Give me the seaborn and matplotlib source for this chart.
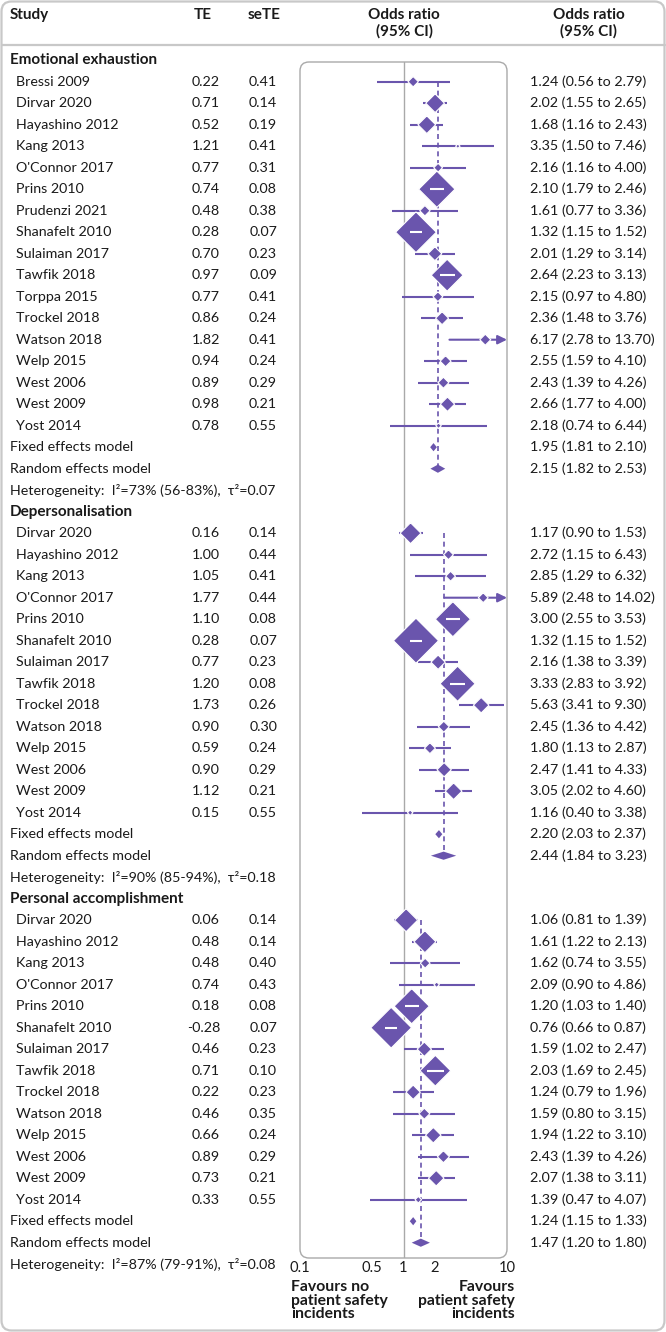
import numpy as np
import pandas as pd
import matplotlib
matplotlib.use("Agg")
import matplotlib.pyplot as plt
import seaborn as sns
from matplotlib.patches import FancyBboxPatch
from matplotlib.ticker import NullLocator

sns.set_theme(style="white")
plt.rcParams['font.family'] = ['Lato', 'DejaVu Sans']

# ---------------- data ----------------
group_names = ["Emotional exhaustion", "Depersonalisation", "Personal accomplishment"]

ee_study = ["Bressi 2009", "Dirvar 2020", "Hayashino 2012", "Kang 2013", "O'Connor 2017",
            "Prins 2010", "Prudenzi 2021", "Shanafelt 2010", "Sulaiman 2017", "Tawfik 2018",
            "Torppa 2015", "Trockel 2018", "Watson 2018", "Welp 2015", "West 2006",
            "West 2009", "Yost 2014"]
ee_te = [0.22, 0.71, 0.52, 1.21, 0.77, 0.74, 0.48, 0.28, 0.70, 0.97, 0.77, 0.86, 1.82, 0.94, 0.89, 0.98, 0.78]
ee_se = [0.41, 0.14, 0.19, 0.41, 0.31, 0.08, 0.38, 0.07, 0.23, 0.09, 0.41, 0.24, 0.41, 0.24, 0.29, 0.21, 0.55]
ee_or = [1.24, 2.02, 1.68, 3.35, 2.16, 2.10, 1.61, 1.32, 2.01, 2.64, 2.15, 2.36, 6.17, 2.55, 2.43, 2.66, 2.18]
ee_lo = [0.56, 1.55, 1.16, 1.50, 1.16, 1.79, 0.77, 1.15, 1.29, 2.23, 0.97, 1.48, 2.78, 1.59, 1.39, 1.77, 0.74]
ee_hi = [2.79, 2.65, 2.43, 7.46, 4.00, 2.46, 3.36, 1.52, 3.14, 3.13, 4.80, 3.76, 13.70, 4.10, 4.26, 4.00, 6.44]
ee_weight = [0.9, 2.9, 2.6, 0.16, 0.64, 10.9, 0.9, 13.7, 1.6, 8.4, 0.8, 1.4, 1.0, 1.0, 1.0, 1.7, 0.25]
ee_fixed = [1.95, 1.81, 2.10]
ee_random = [2.15, 1.82, 2.53]
ee_het = "Heterogeneity:  I²=73% (56-83%),  τ²=0.07"

dp_study = ["Dirvar 2020", "Hayashino 2012", "Kang 2013", "O'Connor 2017", "Prins 2010",
            "Shanafelt 2010", "Sulaiman 2017", "Tawfik 2018", "Trockel 2018", "Watson 2018",
            "Welp 2015", "West 2006", "West 2009", "Yost 2014"]
dp_te = [0.16, 1.00, 1.05, 1.77, 1.10, 0.28, 0.77, 1.20, 1.73, 0.90, 0.59, 0.90, 1.12, 0.15]
dp_se = [0.14, 0.44, 0.41, 0.44, 0.08, 0.07, 0.23, 0.08, 0.26, 0.30, 0.24, 0.29, 0.21, 0.55]
dp_or = [1.17, 2.72, 2.85, 5.89, 3.00, 1.32, 2.16, 3.33, 5.63, 2.45, 1.80, 2.47, 3.05, 1.16]
dp_lo = [0.90, 1.15, 1.29, 2.48, 2.55, 1.15, 1.38, 2.83, 3.41, 1.36, 1.13, 1.41, 2.02, 0.40]
dp_hi = [1.53, 6.43, 6.32, 14.02, 3.53, 1.52, 3.39, 3.92, 9.30, 4.42, 2.87, 4.33, 4.60, 3.38]
dp_weight = [3.6, 0.8, 0.8, 0.8, 10.2, 16.8, 1.7, 10.2, 2.0, 1.0, 1.0, 1.7, 2.3, 0.25]
dp_fixed = [2.20, 2.03, 2.37]
dp_random = [2.44, 1.84, 3.23]
dp_het = "Heterogeneity:  I²=90% (85-94%),  τ²=0.18"

pa_study = ["Dirvar 2020", "Hayashino 2012", "Kang 2013", "O'Connor 2017", "Prins 2010",
            "Shanafelt 2010", "Sulaiman 2017", "Tawfik 2018", "Trockel 2018", "Watson 2018",
            "Welp 2015", "West 2006", "West 2009", "Yost 2014"]
pa_te = [0.06, 0.48, 0.48, 0.74, 0.18, -0.28, 0.46, 0.71, 0.22, 0.46, 0.66, 0.89, 0.73, 0.33]
pa_se = [0.14, 0.14, 0.40, 0.43, 0.08, 0.07, 0.23, 0.10, 0.23, 0.35, 0.24, 0.29, 0.21, 0.55]
pa_or = [1.06, 1.61, 1.62, 2.09, 1.20, 0.76, 1.59, 2.03, 1.24, 1.59, 1.94, 2.43, 2.07, 1.39]
pa_lo = [0.81, 1.22, 0.74, 0.90, 1.03, 0.66, 1.02, 1.69, 0.79, 0.80, 1.22, 1.39, 1.38, 0.47]
pa_hi = [1.39, 2.13, 3.55, 4.86, 1.40, 0.87, 2.47, 2.45, 1.96, 3.15, 3.10, 4.26, 3.11, 4.07]
pa_weight = [4.4, 4.0, 0.8, 0.25, 10.2, 13.7, 1.7, 7.8, 1.7, 1.0, 2.0, 1.2, 2.0, 0.36]
pa_fixed = [1.24, 1.15, 1.33]
pa_random = [1.47, 1.20, 1.80]
pa_het = "Heterogeneity:  I²=87% (79-91%),  τ²=0.08"

x_ticks = [0.1, 0.5, 1, 2, 10]
x_tick_labels = ["0.1", "0.5", "1", "2", "10"]
header_cols = ["Study", "TE", "seTE", "Odds ratio\n(95% CI)", "Odds ratio\n(95% CI)"]
fav_left = ["Favours no", "patient safety", "incidents"]
fav_right = ["Favours", "patient safety", "incidents"]

groups = [
    (group_names[0], ee_study, ee_te, ee_se, ee_or, ee_lo, ee_hi, ee_weight, ee_fixed, ee_random, ee_het),
    (group_names[1], dp_study, dp_te, dp_se, dp_or, dp_lo, dp_hi, dp_weight, dp_fixed, dp_random, dp_het),
    (group_names[2], pa_study, pa_te, pa_se, pa_or, pa_lo, pa_hi, pa_weight, pa_fixed, pa_random, pa_het),
]

# ---------------- style ----------------
PURPLE = "#6a55ad"
GREY = "#a9a9a9"
FRAME = "#c8c8c8"
TXT = "#1a1a1a"
FS = 10.3
FSB = 11.0

W, H = 666, 1332
Y0, DY = 60.2, 21.5
BOX_L, BOX_R, BOX_T, BOX_B = 300, 507, 62, 1258
X_STUDY, X_INDENT, X_TE, X_SE, X_CI = 10, 16.5, 220, 277, 530


def ypx(r):
    return Y0 + DY * r


fig = plt.figure(figsize=(W / 100, H / 100), dpi=100)
bg = fig.add_axes([0, 0, 1, 1])
bg.set_xlim(0, W)
bg.set_ylim(H, 0)
bg.axis("off")

# outer frame and header separator
bg.add_patch(FancyBboxPatch((1.5, 1.5), W - 3, H - 3, boxstyle="round,pad=0,rounding_size=10",
                            fc="white", ec=FRAME, lw=1.6, zorder=0))
bg.plot([1.5, W - 1.5], [45, 45], color=FRAME, lw=1.6, zorder=1)
# plot box
bg.add_patch(FancyBboxPatch((BOX_L, BOX_T), BOX_R - BOX_L, BOX_B - BOX_T,
                            boxstyle="round,pad=0,rounding_size=9",
                            fc="none", ec=GREY, lw=1.0, zorder=1))

# header texts
hy1, hy2 = 15, 31
bg.text(X_STUDY, hy1, header_cols[0], ha="left", va="center", fontsize=FSB, fontweight="bold", color=TXT)
bg.text(203, hy1, header_cols[1], ha="center", va="center", fontsize=FSB, fontweight="bold", color=TXT)
bg.text(264, hy1, header_cols[2], ha="center", va="center", fontsize=FSB, fontweight="bold", color=TXT)
for xc, lab in [(404, header_cols[3]), (589, header_cols[4])]:
    l1, l2 = lab.split("\n")
    bg.text(xc, hy1, l1, ha="center", va="center", fontsize=FSB, fontweight="bold", color=TXT)
    bg.text(xc, hy2, l2, ha="center", va="center", fontsize=FSB, fontweight="bold", color=TXT)

# forest axes
ax = fig.add_axes([BOX_L / W, 1 - BOX_B / H, (BOX_R - BOX_L) / W, (BOX_B - BOX_T) / H])
ax.patch.set_alpha(0)

records = []
summaries = []
r = 0
for (gname, st, te, se, orr, lo, hi, wt, fx, rd, het) in groups:
    y = ypx(r)
    bg.text(X_STUDY, y, gname, ha="left", va="center", fontsize=FSB, fontweight="bold", color=TXT)
    r += 1
    first = r
    for i in range(len(st)):
        y = ypx(r)
        bg.text(X_INDENT, y, st[i], ha="left", va="center", fontsize=FS, color=TXT)
        bg.text(X_TE, y, f"{te[i]:.2f}", ha="right", va="center", fontsize=FS, color=TXT)
        bg.text(X_SE, y, f"{se[i]:.2f}", ha="right", va="center", fontsize=FS, color=TXT)
        bg.text(X_CI, y, f"{orr[i]:.2f} ({lo[i]:.2f} to {hi[i]:.2f})", ha="left", va="center",
                fontsize=FS, color=TXT)
        records.append(dict(row=r, OR=orr[i], lo=lo[i], hi=hi[i], weight=wt[i]))
        r += 1
    for lab, vals in [("Fixed effects model", fx), ("Random effects model", rd)]:
        y = ypx(r)
        bg.text(X_STUDY, y, lab, ha="left", va="center", fontsize=FS, color=TXT)
        bg.text(X_CI, y, f"{vals[0]:.2f} ({vals[1]:.2f} to {vals[2]:.2f})", ha="left", va="center",
                fontsize=FS, color=TXT)
        summaries.append((r, vals))
        r += 1
    # dashed random-effects line
    ax.vlines(rd[0], first, r - 1, colors=PURPLE, lw=1.2, linestyles=(0, (3.0, 2.2)), zorder=1)
    bg.text(X_STUDY, ypx(r), het, ha="left", va="center", fontsize=FS, color=TXT)
    r += 1

df = pd.DataFrame(records)
wmin, wmax = df["weight"].min(), df["weight"].max()
WPX = 11.0                      # marker width in px per sqrt(weight)
K = (0.72 * WPX) ** 2           # marker area (pt^2) per unit weight
diamond = [(0, 1), (1, 0), (0, -1), (-1, 0), (0, 1)]

ax.axvline(1, color=GREY, lw=1.0, zorder=1)

# CI lines
for _, rec in df.iterrows():
    if rec["hi"] > 10:
        ax.annotate("", xy=(10, rec["row"]), xytext=(rec["lo"], rec["row"]),
                    arrowprops=dict(arrowstyle="-|>,head_length=0.45,head_width=0.22",
                                    color=PURPLE, lw=1.5, shrinkA=0, shrinkB=0),
                    zorder=2, annotation_clip=False)
    else:
        ax.hlines(rec["row"], rec["lo"], rec["hi"], colors=PURPLE, lw=1.5, zorder=2)

sns.scatterplot(data=df, x="OR", y="row", size="weight", sizes=(K * wmin, K * wmax),
                size_norm=(wmin, wmax), marker=diamond, color=PURPLE, edgecolor="white",
                linewidth=0.8, legend=False, ax=ax, zorder=3)

# summary diamonds
h = 0.19
for (row, vals) in summaries:
    est, lo, hi = vals
    ax.fill([lo, est, hi, est], [row, row - h, row, row + h], color=PURPLE, lw=0, zorder=3)

ax.set_xscale("log")
ax.set_xlim(0.1, 10)
ax.set_ylim((BOX_B - Y0) / DY, (BOX_T - Y0) / DY)
for s in ax.spines.values():
    s.set_visible(False)
ax.set_xlabel("")
ax.set_ylabel("")
ax.set_yticks([])
ax.set_xticks(x_ticks)
ax.set_xticklabels(x_tick_labels)
ax.xaxis.set_minor_locator(NullLocator())
ax.tick_params(axis="x", length=0, pad=2.5, labelsize=10.6, colors=TXT)
ax.grid(False)

# white CI lines inside large markers
fig.canvas.draw()
for _, rec in df.iterrows():
    px = ax.transData.transform([[rec["lo"], rec["row"]], [rec["OR"], rec["row"]], [min(rec["hi"], 10), rec["row"]]])[:, 0]
    half = WPX * np.sqrt(rec["weight"]) / 2
    if (px[1] - px[0]) < half - 2.5 and (px[2] - px[1]) < half - 2.5:
        ax.hlines(rec["row"], rec["lo"], rec["hi"], colors="white", lw=1.5, zorder=4)

# favours labels
for i, t in enumerate(fav_left):
    bg.text(291, 1287 + 13.6 * i, t, ha="left", va="center", fontsize=11.3, fontweight="bold", color=TXT)
for i, t in enumerate(fav_right):
    bg.text(515, 1287 + 13.6 * i, t, ha="right", va="center", fontsize=11.3, fontweight="bold", color=TXT)

fig.savefig("out.png", dpi=100, facecolor="white")
